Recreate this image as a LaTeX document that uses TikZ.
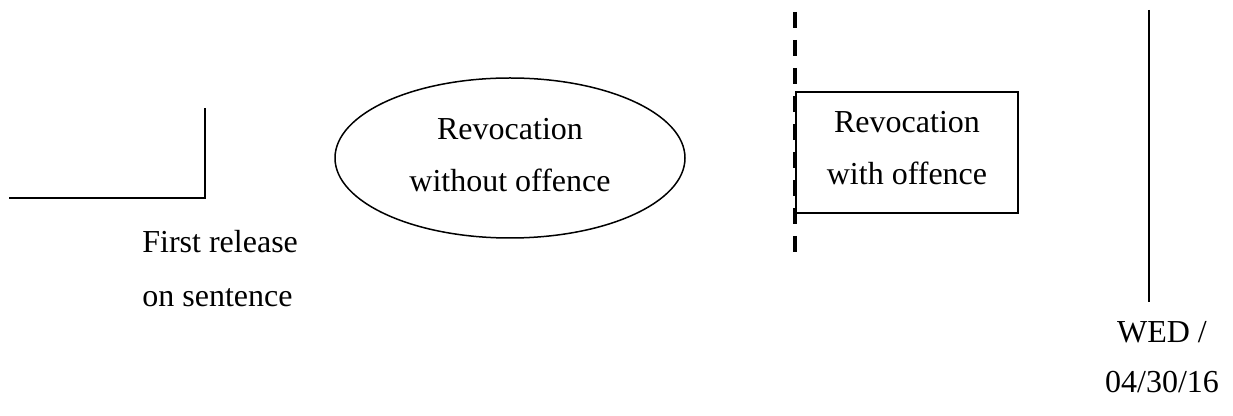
\documentclass[tikz,border=0pt]{standalone}
\usepackage{fontspec}
\setmainfont{Liberation Serif}
\usetikzlibrary{shapes.geometric}
\tikzset{
  caption/.style = {font=\fontsize{16}{26}\selectfont, inner sep=0pt},
  thickdash/.style = {line width=1.75pt, dash pattern=on 8pt off 6pt}
}

\begin{document}
\begin{tikzpicture}[x=0.5pt,y=-0.5pt]
  \useasboundingbox (0,0) rectangle (1233,416);
  % first release
  \coordinate (F0) at (9,198);
  \coordinate (F1) at (205,198);
  \coordinate (F2) at (205,108);
  \draw[line width=0.8pt] (F0) -- (F1) -- (F2);
  \node[caption,align=left,anchor=base west] (first) at (142,307) {First release\\[1pt]on sentence};
  % revocation without offence
  \node[caption,draw,line width=0.75pt,ellipse,minimum width=175pt,minimum height=80pt,align=center,text depth=3pt] (without) at (510,158) {Revocation\\without offence};
  % dashed boundary
  \coordinate (D0) at (795,12);
  \coordinate (D1) at (795,252);
  \draw[thickdash] (D0) -- (D1);
  % revocation with offence
  \node[caption,draw,line width=0.9pt,minimum width=111pt,minimum height=60.5pt,align=center,text depth=5pt] (with) at (907,152.5) {Revocation\\with offence};
  % warrant expiry
  \coordinate (W0) at (1149,10);
  \coordinate (W1) at (1149,302);
  \draw[line width=0.75pt] (W0) -- (W1);
  \node[caption,align=center,anchor=base] (wed) at (1162,393) {WED /\\[-1pt]04/30/16};
\end{tikzpicture}
\end{document}
